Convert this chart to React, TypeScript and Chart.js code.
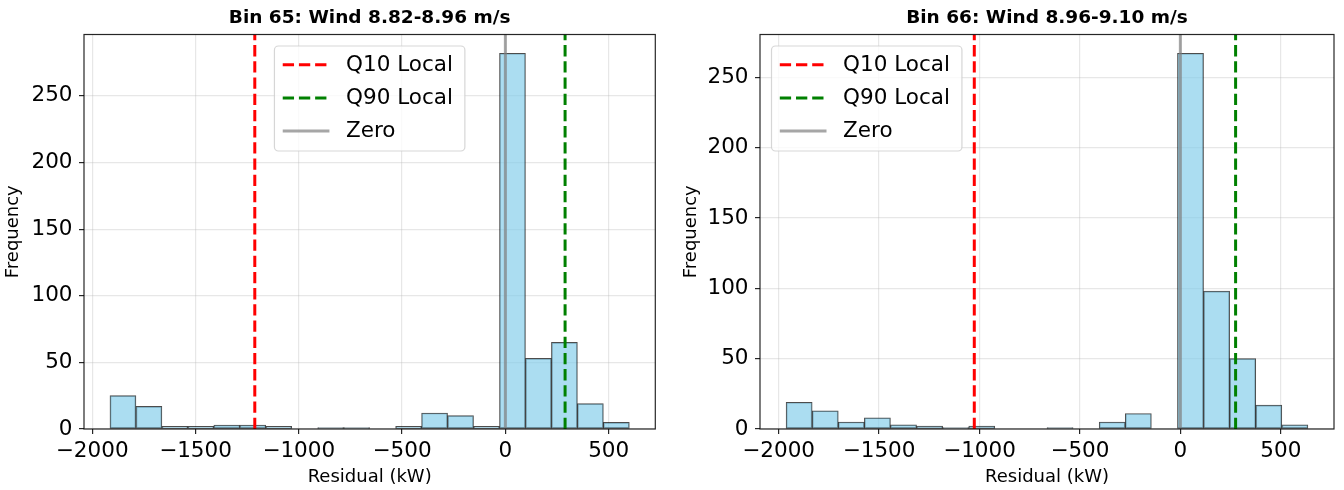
import React, { useEffect, useRef } from 'react';
import { Chart, registerables } from 'chart.js';

Chart.register(...registerables);

// ---------- data ----------
const X_TICKS = [-2000, -1500, -1000, -500, 0, 500];
const Y_TICKS = [0, 50, 100, 150, 200, 250];
const LEGEND_LABELS = ['Q10 Local', 'Q90 Local', 'Zero'];
const X_LABEL = 'Residual (kW)';
const Y_LABEL = 'Frequency';
const ZERO = 0;

const LEFT_TITLE = 'Bin 65: Wind 8.82-8.96 m/s';
const LEFT_BIN_RANGE = [-1914, 600];
const LEFT_COUNTS = [25, 17, 2, 2, 3, 3, 2, 0, 1, 1, 0, 2, 12, 10, 2, 282, 53, 65, 19, 5];
const LEFT_Q10 = -1213;
const LEFT_Q90 = 289;

const RIGHT_TITLE = 'Bin 66: Wind 8.96-9.10 m/s';
const RIGHT_BIN_RANGE = [-1963, 635];
const RIGHT_COUNTS = [19, 13, 5, 8, 3, 2, 1, 2, 0, 0, 1, 0, 5, 11, 0, 267, 98, 50, 17, 3];
const RIGHT_Q10 = -1026;
const RIGHT_Q90 = 275;

// ---------- styling / layout ----------
const FONT = "'DejaVu Sans', sans-serif";
const TICK_SIZE = 21.5;
const LABEL_SIZE = 18;
const TITLE_SIZE = 18.5;

type Panel = {
  title: string;
  range: number[];
  counts: number[];
  q10: number;
  q90: number;
  yAxisWidth: number;
  padRight: number;
  yTitlePad: number;
  legendAlign: 'center' | 'left';
};

const LEFT_PANEL: Panel = {
  title: LEFT_TITLE,
  range: LEFT_BIN_RANGE,
  counts: LEFT_COUNTS,
  q10: LEFT_Q10,
  q90: LEFT_Q90,
  yAxisWidth: 84,
  padRight: 16.7,
  yTitlePad: 2.9,
  legendAlign: 'center',
};

const RIGHT_PANEL: Panel = {
  title: RIGHT_TITLE,
  range: RIGHT_BIN_RANGE,
  counts: RIGHT_COUNTS,
  q10: RIGHT_Q10,
  q90: RIGHT_Q90,
  yAxisWidth: 88,
  padRight: 10,
  yTitlePad: 8.7,
  legendAlign: 'left',
};

const fmt = (v: number | string) => {
  const n = Number(v);
  return n < 0 ? '\u2212' + Math.abs(n) : String(n);
};

const framePlugin = {
  id: 'mplFrame',
  afterDatasetsDraw(chart: any, _args: any, opts: any) {
    const { ctx, chartArea: a } = chart;
    ctx.save();
    ctx.setLineDash([]);
    ctx.strokeStyle = 'rgba(0,0,0,0.85)';
    ctx.lineWidth = 1.2;
    ctx.strokeRect(a.left, a.top, a.right - a.left, a.bottom - a.top);

    // matplotlib-like legend
    const items = chart.data.datasets.filter((d: any) => d.type === 'line');
    ctx.font = `${TICK_SIZE}px ${FONT}`;
    const tw = Math.max(...items.map((d: any) => ctx.measureText(d.label).width));
    const w = 71.6 + tw + 12;
    const h = 105;
    const left = opts.legendAlign === 'center' ? (a.left + a.right) / 2 - w / 2 : a.left + 11.5;
    const top = a.top + 11.5;
    ctx.beginPath();
    if (ctx.roundRect) ctx.roundRect(left, top, w, h, 4);
    else ctx.rect(left, top, w, h);
    ctx.fillStyle = 'rgba(255,255,255,0.8)';
    ctx.fill();
    ctx.strokeStyle = 'rgba(204,204,204,0.8)';
    ctx.lineWidth = 1.2;
    ctx.stroke();
    items.forEach((d: any, i: number) => {
      const y = top + 18.8 + i * 33.1;
      ctx.beginPath();
      ctx.setLineDash(d.borderDash || []);
      ctx.strokeStyle = d.borderColor;
      ctx.lineWidth = d.borderWidth;
      ctx.lineCap = 'butt';
      ctx.moveTo(left + 8.3, y);
      ctx.lineTo(left + 55, y);
      ctx.stroke();
      ctx.setLineDash([]);
      ctx.fillStyle = '#000';
      ctx.textBaseline = 'middle';
      ctx.textAlign = 'left';
      ctx.fillText(d.label, left + 71.6, y + 0.8);
    });
    ctx.restore();
  },
};

function makeChart(canvas: HTMLCanvasElement, p: Panel) {
  const [lo, hi] = p.range;
  const n = p.counts.length;
  const bw = (hi - lo) / n;
  const barData = p.counts.map((c, i) => ({ x: lo + bw * (i + 0.5), y: c }));
  const yMax = Math.max(...p.counts) * 1.05;
  const xMargin = (hi - lo) * 0.05;
  const vline = (x: number) => [
    { x, y: 0 },
    { x, y: yMax },
  ];
  const gridCfg = {
    offset: false,
    color: 'rgba(176,176,176,0.3)',
    lineWidth: 1.2,
    tickColor: 'rgba(0,0,0,0.85)',
    tickWidth: 1.2,
    tickLength: 5,
  };

  return new Chart(canvas, {
    type: 'bar',
    data: {
      datasets: [
        {
          type: 'line',
          label: LEGEND_LABELS[0],
          data: vline(p.q10),
          borderColor: '#ff0000',
          borderWidth: 3,
          borderDash: [11.3, 4.9],
          pointRadius: 0,
          fill: false,
        },
        {
          type: 'line',
          label: LEGEND_LABELS[1],
          data: vline(p.q90),
          borderColor: '#008000',
          borderWidth: 3,
          borderDash: [11.3, 4.9],
          pointRadius: 0,
          fill: false,
        },
        {
          type: 'line',
          label: LEGEND_LABELS[2],
          data: vline(ZERO),
          borderColor: 'rgba(128,128,128,0.7)',
          borderWidth: 3,
          borderDash: [],
          pointRadius: 0,
          fill: false,
        },
        {
          type: 'bar',
          label: 'hist',
          data: barData,
          backgroundColor: 'rgba(135,206,235,0.7)',
          borderColor: 'rgba(0,0,0,0.7)',
          borderWidth: 1,
          borderSkipped: false,
          barPercentage: 1,
          categoryPercentage: 1,
        },
      ] as any,
    },
    options: {
      animation: false,
      responsive: false,
      layout: { padding: { left: 0, right: p.padRight, top: 0, bottom: 0 } },
      plugins: {
        legend: { display: false },
        tooltip: { enabled: false },
        title: {
          display: true,
          text: p.title,
          color: '#000',
          fullSize: false,
          font: { family: FONT, size: TITLE_SIZE, weight: 'bold', lineHeight: 1.2 },
          padding: { top: 7.5, bottom: 4.8 },
        },
        mplFrame: { legendAlign: p.legendAlign },
      } as any,
      scales: {
        x: {
          type: 'linear',
          min: lo - xMargin,
          max: hi + xMargin,
          offset: false,
          afterBuildTicks: (s: any) => {
            s.ticks = X_TICKS.map((v) => ({ value: v }));
          },
          afterFit: (s: any) => {
            s.height = 61;
          },
          grid: gridCfg,
          border: { display: false },
          ticks: {
            color: '#000',
            font: { family: FONT, size: TICK_SIZE },
            padding: 5,
            maxRotation: 0,
            autoSkip: false,
            callback: fmt,
          },
          title: {
            display: true,
            text: X_LABEL,
            color: '#000',
            font: { family: FONT, size: LABEL_SIZE },
            padding: { top: 0, bottom: 2.1 },
          },
        },
        y: {
          type: 'linear',
          min: 0,
          max: yMax,
          afterBuildTicks: (s: any) => {
            s.ticks = Y_TICKS.map((v) => ({ value: v }));
          },
          afterFit: (s: any) => {
            s.width = p.yAxisWidth;
          },
          grid: gridCfg,
          border: { display: false },
          ticks: {
            color: '#000',
            font: { family: FONT, size: TICK_SIZE },
            padding: 6.5,
            autoSkip: false,
            callback: fmt,
          },
          title: {
            display: true,
            text: Y_LABEL,
            color: '#000',
            font: { family: FONT, size: LABEL_SIZE },
            padding: { top: p.yTitlePad, bottom: 0 },
          },
        },
      } as any,
    },
    plugins: [framePlugin],
  } as any);
}

export default function App() {
  const leftRef = useRef<HTMLCanvasElement>(null);
  const rightRef = useRef<HTMLCanvasElement>(null);

  useEffect(() => {
    const c1 = makeChart(leftRef.current as HTMLCanvasElement, LEFT_PANEL);
    const c2 = makeChart(rightRef.current as HTMLCanvasElement, RIGHT_PANEL);
    return () => {
      c1.destroy();
      c2.destroy();
    };
  }, []);

  return (
    <div style={{ position: 'absolute', left: 0, top: 0, width: 1344, height: 490, background: '#fff' }}>
      <canvas ref={leftRef} width={672} height={490} style={{ position: 'absolute', left: 0, top: 0 }} />
      <canvas ref={rightRef} width={672} height={490} style={{ position: 'absolute', left: 672, top: 0 }} />
    </div>
  );
}
